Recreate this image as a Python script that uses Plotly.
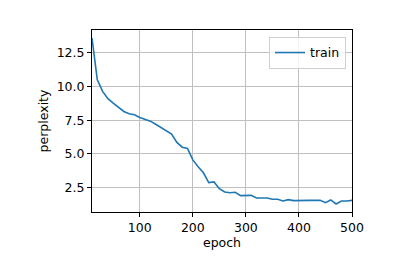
import plotly.graph_objects as go

epochs = list(range(10, 501, 10))
perplexity = [13.6, 10.5, 9.64, 9.1, 8.77, 8.47, 8.15, 7.98, 7.9, 7.7,
              7.55, 7.43, 7.2, 6.98, 6.7, 6.48, 5.85, 5.5, 5.4, 4.55,
              4.05, 3.6, 2.87, 2.92, 2.42, 2.17, 2.12, 2.15, 1.9, 1.9,
              1.92, 1.72, 1.72, 1.72, 1.63, 1.63, 1.5, 1.6, 1.53, 1.55,
              1.58, 1.55, 1.55, 1.55, 1.38, 1.58, 1.28, 1.5, 1.5, 1.55]
x_ticks = [100, 200, 300, 400, 500]
y_ticks = [2.5, 5.0, 7.5, 10.0, 12.5]
y_tick_labels = ["2.5", "5.0", "7.5", "10.0", "12.5"]

FS = 12.5

fig = go.Figure()
fig.add_trace(go.Scatter(x=epochs, y=perplexity, mode="lines", name="train",
                         line=dict(color="#1f77b4", width=1.6)))

axis_common = dict(showline=True, linecolor="black", linewidth=1, mirror=True,
                   ticks="outside", ticklen=4, tickwidth=1, tickcolor="black",
                   showgrid=True, gridcolor="#c0c0c0", gridwidth=1, zeroline=False,
                   tickfont=dict(family="DejaVu Sans", size=FS, color="black"))

fig.update_layout(
    width=420, height=278,
    margin=dict(l=92, r=68, t=30, b=66),
    paper_bgcolor="white", plot_bgcolor="white",
    font=dict(family="DejaVu Sans", size=FS, color="black"),
    xaxis=dict(range=[10, 500], tickvals=x_ticks,
               title=dict(text="epoch", font=dict(size=FS), standoff=4), **axis_common),
    yaxis=dict(range=[0.685, 14.2], tickvals=y_ticks, ticktext=y_tick_labels,
               title=dict(text="perplexity", font=dict(size=FS), standoff=5), **axis_common),
    showlegend=True,
    legend=dict(x=0.977, y=0.962, xanchor="right", yanchor="top",
                bgcolor="rgba(255,255,255,0.8)", bordercolor="#d0d0d0", borderwidth=1,
                font=dict(size=FS), itemwidth=30, tracegroupgap=0),
)

fig.write_html("out.html")
